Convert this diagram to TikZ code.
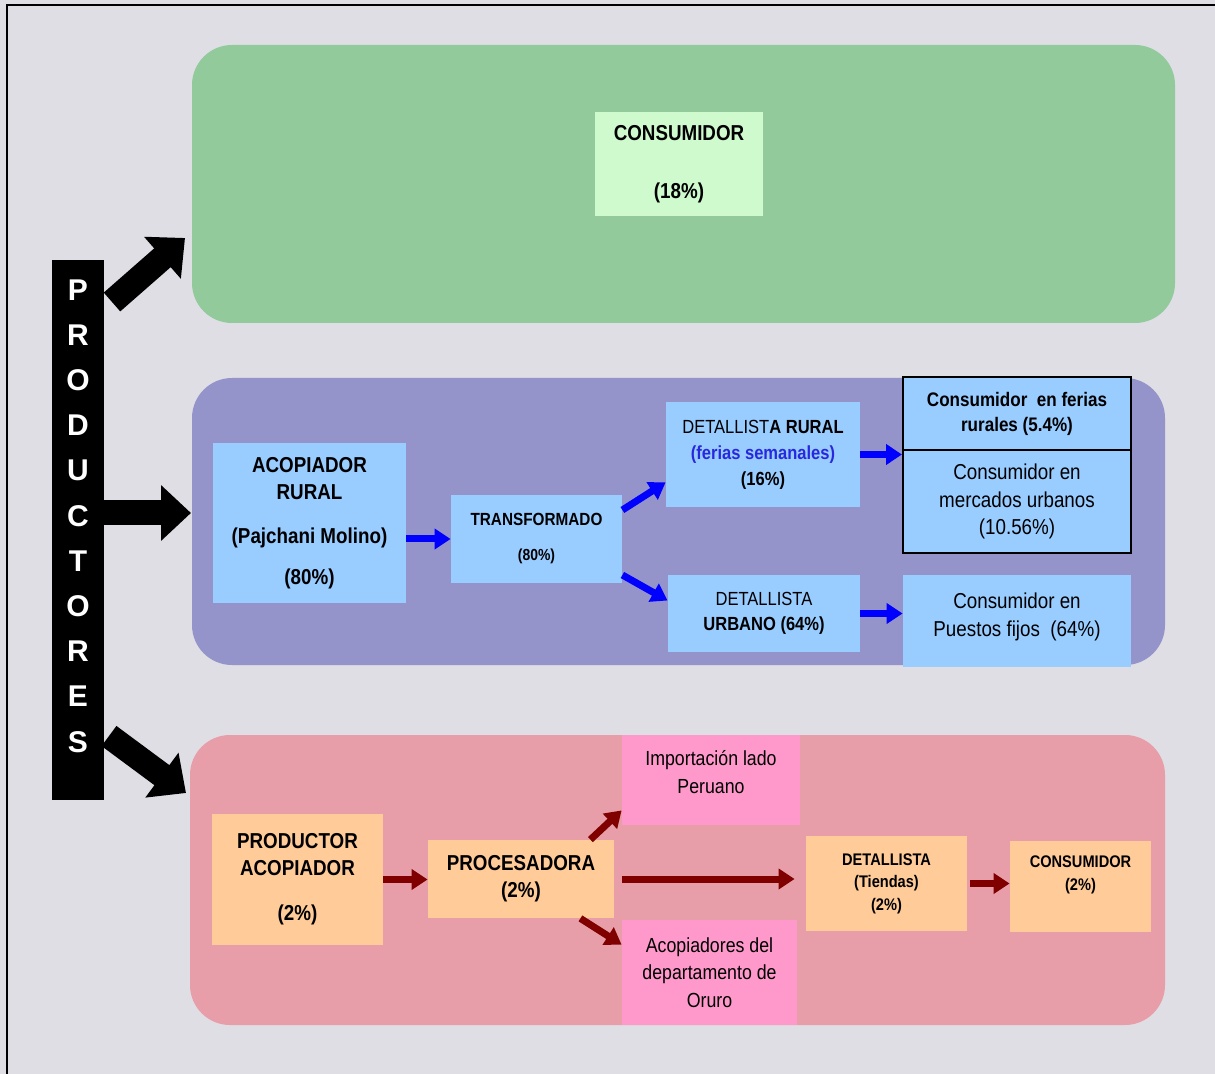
\documentclass[tikz,border=0pt]{standalone}
\usepackage{fontspec}
\setmainfont{Liberation Sans}[FakeStretch=0.87]
\newfontfamily\barfont{Liberation Sans}
\usetikzlibrary{arrows.meta}
\definecolor{bgmarble}{RGB}{222,222,228}
\definecolor{greenR}{RGB}{146,202,156}
\definecolor{blueR}{RGB}{148,148,202}
\definecolor{redR}{RGB}{232,158,168}
\definecolor{lblue}{RGB}{153,204,255}
\definecolor{lgreen}{RGB}{206,250,206}
\definecolor{peach}{RGB}{255,204,153}
\definecolor{pinkb}{RGB}{255,153,204}
\definecolor{arrblue}{RGB}{0,0,255}
\definecolor{arrred}{RGB}{128,0,0}
\definecolor{ferblue}{RGB}{40,40,220}
\newcommand\fbig{\fontsize{10.8}{13.5}\selectfont}
\newcommand\fmed{\fontsize{9.8}{12.5}\selectfont}
\newcommand\fsml{\fontsize{8.4}{11.3}\selectfont}
\tikzset{
  region/.style={rectangle, rounded corners=20pt, inner sep=0pt},
  box/.style={rectangle, inner sep=0pt, align=center, text=black},
  bluearr/.style={draw=arrblue, line width=3.5pt, -{Triangle[length=8pt,width=10pt]}, arrblue},
  redarr/.style={draw=arrred, line width=3.5pt, -{Triangle[length=8pt,width=10pt]}, arrred},
  bigarr/.style={draw=black, line width=12.5pt, -{Triangle[length=15pt,width=27pt]}}
}
\begin{document}
\begin{tikzpicture}[x=0.5pt,y=-0.5pt]
\useasboundingbox (0,0) rectangle (1215,1074);
\fill[bgmarble] (0,0) rectangle (1215,1074);
\draw[line width=1.2pt] (7,1074) -- (7,5) -- (1215,5);

% regions
\node[region, fill=greenR, minimum width=491.5pt, minimum height=139pt] (greenreg) at (683.5,184) {};
\node[region, fill=blueR, minimum width=486.5pt, minimum height=143.5pt] (bluereg) at (678.5,521.5) {};
\node[region, fill=redR, minimum width=487.5pt, minimum height=145pt] (redreg) at (677.5,880) {};

% productores bar
\node[fill=black, inner sep=0pt, minimum width=26pt, minimum height=270pt] (prodbar) at (78,530) {};
\node[text=white, align=center, inner sep=0pt, font=\barfont\bfseries\fontsize{15}{22.6}\selectfont] (prodlabel) at (78,516) {P\\R\\O\\D\\U\\C\\T\\O\\R\\E\\S};

\coordinate (s1) at (112,302);
\coordinate (e1) at (185,238);
\coordinate (s2) at (104,513);
\coordinate (e2) at (191,513);
\coordinate (s3) at (109,736);
\coordinate (e3) at (186,793);
\draw[bigarr] (s1) -- (e1);
\draw[bigarr] (s2) -- (e2);
\draw[bigarr] (s3) -- (e3);

% green region
\node[box, fill=lgreen, minimum width=84pt, minimum height=52pt, font=\fbig\bfseries] (cons18) at (679,164) {CONSUMIDOR\\[15.5pt](18\%)};

% blue region
\node[box, fill=lblue, minimum width=96.5pt, minimum height=80pt, font=\fbig\bfseries] (acop) at (309.5,523) {ACOPIADOR\\RURAL\\[8.5pt](Pajchani Molino)\\[7pt](80\%)};
\node[box, fill=lblue, minimum width=85.5pt, minimum height=44pt, font=\fontsize{8.8}{11}\selectfont\bfseries] (transf) at (536.5,539) {TRANSFORMADO\\[6.5pt]{\fontsize{8}{10}\selectfont(80\%)}};
\node[box, fill=lblue, minimum width=97pt, minimum height=52.5pt, font=\fontsize{9.5}{13}\selectfont] (detR) at (763,454.5) {DETALLIST\textbf{A RURAL}\\\textcolor{ferblue}{\textbf{(ferias semanales)}}\\\textbf{(16\%)}};
\node[box, fill=lblue, minimum width=96pt, minimum height=38.5pt, font=\fontsize{9.5}{12.5}\selectfont] (detU) at (764,613.5) {DETALLISTA\\\textbf{URBANO (64\%)}};
\node[box, fill=lblue, draw=black, line width=1pt, minimum width=114pt, minimum height=36.5pt, font=\fmed\bfseries] (consR) at (1017,413.5) {Consumidor\ \ en ferias\\rurales (5.4\%)};
\node[box, fill=lblue, draw=black, line width=1pt, minimum width=114pt, minimum height=51.5pt, font=\fontsize{10.8}{13.8}\selectfont] (consM) at (1017,501.5) {Consumidor en\\mercados urbanos\\(10.56\%)};
\node[box, fill=lblue, minimum width=114pt, minimum height=46pt, font=\fontsize{10.8}{14}\selectfont] (puestos) at (1017,621) {Consumidor en\\Puestos fijos\ \ (64\%)\\[-8pt]};

\draw[bluearr] (acop.east |- transf.west) -- (transf.west);
\draw[bluearr] ([yshift=14.5pt]transf.east) -- ([yshift=12.5pt]detR.south west);
\draw[bluearr] ([yshift=-18pt]transf.east) -- ([yshift=6.5pt]detU.west);
\draw[bluearr] (detR.east) -- (detR.east -| consM.west);
\draw[bluearr] (detU.east) -- (detU.east -| puestos.west);

% red region
\node[box, fill=peach, minimum width=85.5pt, minimum height=65.5pt, font=\fbig\bfseries] (prodAcop) at (297.5,879.5) {PRODUCTOR\\ACOPIADOR\\[9pt](2\%)};
\node[box, fill=peach, minimum width=93pt, minimum height=39pt, font=\fbig\bfseries] (proces) at (521,879) {PROCESADORA\\(2\%)};
\node[box, fill=pinkb, minimum width=89pt, minimum height=45pt, font=\fontsize{10.2}{14}\selectfont] (import) at (711,780) {Importación lado\\Peruano\\[-6pt]};
\node[box, fill=pinkb, minimum width=87.5pt, minimum height=52.5pt, font=\fontsize{10.2}{13.8}\selectfont] (acopOr) at (709.5,972.5) {Acopiadores del\\departamento de\\Oruro};
\node[box, fill=peach, minimum width=80.5pt, minimum height=47.5pt, font=\fsml\bfseries] (detT) at (886.5,883.5) {DETALLISTA\\(Tiendas)\\(2\%)};
\node[box, fill=peach, minimum width=70.5pt, minimum height=45.5pt, font=\fsml\bfseries] (consB) at (1080.5,886.5) {CONSUMIDOR\\(2\%)\\[2pt]};

\draw[redarr] (prodAcop.east) -- (prodAcop.east -| proces.west);
\draw[redarr] ([xshift=-12pt]proces.north east) -- ([yshift=7.5pt]import.south west);
\draw[redarr] ([xshift=-17pt]proces.south east) -- ([yshift=-12.5pt]acopOr.north west);
\draw[redarr] ([xshift=4pt]proces.east) -- ([xshift=-5.5pt]proces.east -| detT.west);
\draw[redarr] ([xshift=1.5pt]detT.east) -- (detT.east -| consB.west);
\end{tikzpicture}
\end{document}
